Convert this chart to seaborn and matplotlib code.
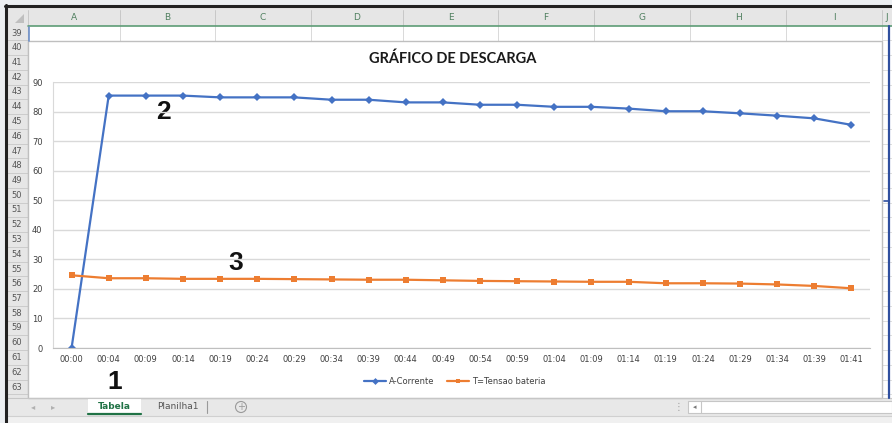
import matplotlib.pyplot as plt
import matplotlib.patches as mpatches
import numpy as np
import pandas as pd
import seaborn as sns

# Data
tempos = ['00:00', '00:04', '00:09', '00:14', '00:19', '00:24', '00:29',
          '00:34', '00:39', '00:44', '00:49', '00:54', '00:59', '01:04',
          '01:09', '01:14', '01:19', '01:24', '01:29', '01:34', '01:39',
          '01:41']
corrente = [0, 85.4, 85.4, 85.4, 84.8, 84.8, 84.8, 84.0, 84.0, 83.1, 83.1,
            82.3, 82.3, 81.6, 81.6, 81.0, 80.1, 80.1, 79.4, 78.6, 77.7, 75.5]
tensao = [24.6, 23.6, 23.6, 23.4, 23.4, 23.4, 23.3, 23.2, 23.1, 23.1, 22.9,
          22.7, 22.6, 22.5, 22.4, 22.4, 21.9, 21.9, 21.8, 21.5, 21.0, 20.2]
series_names = ['A-Corrente', 'T=Tensao bateria']
y_ticks = [0, 10, 20, 30, 40, 50, 60, 70, 80, 90]
col_letters = ['A', 'B', 'C', 'D', 'E', 'F', 'G', 'H', 'I', 'J']
row_numbers = list(range(39, 64))

sns.set_style('white')
plt.rcParams['font.family'] = ['DejaVu Sans']

W, H = 892, 423
BLUE = '#4472C4'
ORANGE = '#ED7D31'

df = pd.DataFrame({
    'pos': list(range(len(tempos))) * 2,
    'valor': corrente + tensao,
    'serie': [series_names[0]] * len(tempos) + [series_names[1]] * len(tempos),
})

fig = plt.figure(figsize=(W / 100, H / 100), dpi=100)
fig.patch.set_facecolor('#eceff2')

# --- spreadsheet backdrop (pixel coordinates) ---
bg = fig.add_axes([0, 0, 1, 1])
bg.set_xlim(0, W)
bg.set_ylim(H, 0)
bg.axis('off')


def rect(x0, y0, x1, y1, fc, ec='none', lw=0.8, z=1):
  bg.add_patch(mpatches.Rectangle((x0, y0), x1 - x0, y1 - y0, facecolor=fc,
                                  edgecolor=ec, linewidth=lw, zorder=z))


# sheet area
rect(6, 7, W, 416, 'white')
# column header band
rect(6, 8, W, 26, '#e6e6e6')
col_edges = [28, 120, 215, 311, 403, 498, 594, 690, 786, 882, 900]
for i, letter in enumerate(col_letters):
  cx = (col_edges[i] + min(col_edges[i + 1], W + 10)) / 2
  if letter == 'J':
    cx = 887
  bg.text(cx, 18, letter, ha='center', va='center', fontsize=6.5,
          color='#4f7f5f', zorder=3)
  bg.plot([col_edges[i], col_edges[i]], [10, 26], color='#c8c8c8', lw=0.7,
          zorder=2)
bg.plot([28, W], [26, 26], color='#5d9c76', lw=1.2, zorder=3)
# select-all corner triangle
bg.add_patch(mpatches.Polygon([[24, 14], [24, 23], [15, 23]], closed=True,
                              facecolor='#bfbfbf', edgecolor='none', zorder=3))
# row numbers
rect(6, 26, 28, 398, '#e6e6e6')
row_h = 14.75
for k, n in enumerate(row_numbers):
  cy = 33 + k * row_h
  bg.text(17, cy, str(n), ha='center', va='center', fontsize=6,
          color='#555555', zorder=3)
  bg.plot([6, 28], [cy + row_h / 2, cy + row_h / 2], color='#c8c8c8',
          lw=0.6, zorder=2)
bg.plot([28, 28], [26, 398], color='#c0c0c0', lw=0.8, zorder=2)
# row 39 cell grid and column J cells
for x in col_edges[1:-1]:
  bg.plot([x, x], [26, 41], color='#d9d9d9', lw=0.7, zorder=2)
bg.plot([28, 882], [41, 41], color='#d9d9d9', lw=0.7, zorder=2)
bg.plot([29, 29], [27, 41], color='#6d8fc9', lw=1.2, zorder=3)
for k in range(len(row_numbers)):
  cy = 33 + k * row_h + row_h / 2
  bg.plot([882, W], [cy, cy], color='#d9d9d9', lw=0.6, zorder=2)
bg.plot([889, 889], [26, 398], color='#2f4f9f', lw=1.6, zorder=4)
bg.plot([884, 889], [201, 201], color='#2f4f9f', lw=1.2, zorder=4)
# chart area
rect(28, 41, 882, 398, 'white', ec='#bfbfbf', lw=1.0, z=2)
# bottom tab bar
rect(6, 398, W, 416, '#e8e8e8')
bg.plot([6, W], [398, 398], color='#c6c6c6', lw=0.8, zorder=3)
rect(6, 416, W, H, '#f0f0f0')
bg.plot([6, W], [416, 416], color='#d0d0d0', lw=0.8, zorder=3)
bg.text(33, 407, '◂', ha='center', va='center', fontsize=6, color='#b0b0b0')
bg.text(53, 407, '▸', ha='center', va='center', fontsize=6, color='#b0b0b0')
rect(88, 398, 141, 415, 'white', z=2)
bg.plot([88, 141], [414.5, 414.5], color='#217346', lw=1.6, zorder=3)
bg.text(114.5, 406.5, 'Tabela', ha='center', va='center', fontsize=6.5,
        color='#217346', fontweight='bold', zorder=4)
bg.text(178, 406.5, 'Planilha1', ha='center', va='center', fontsize=6.5,
        color='#555555', zorder=4)
bg.plot([207, 207], [401, 413], color='#9a9a9a', lw=0.8, zorder=3)
bg.add_patch(mpatches.Circle((241, 407), 5.5, facecolor='none',
                             edgecolor='#9a9a9a', lw=0.8, zorder=3))
bg.text(241, 407, '+', ha='center', va='center', fontsize=7, color='#9a9a9a',
        zorder=4)
bg.text(678, 407, '⋮', ha='center', va='center', fontsize=7, color='#a0a0a0')
rect(688, 401, W, 413, 'white', ec='#c6c6c6', lw=0.8, z=3)
bg.plot([701, 701], [401, 413], color='#c6c6c6', lw=0.8, zorder=4)
bg.text(694.5, 407, '◂', ha='center', va='center', fontsize=5,
        color='#777777', zorder=4)
# outer dark border
bg.plot([5, W], [6, 6], color='#222222', lw=2.2, zorder=6)
bg.plot([6, 6], [5, H], color='#222222', lw=2.2, zorder=6)

# chart title and annotations
bg.text(453, 59, 'GRÁFICO DE DESCARGA', ha='center', va='center',
        fontsize=10.5, fontweight='bold', family=['Lato', 'DejaVu Sans'],
        color='#1a1a1a', zorder=5)
bg.text(163, 112, '2', ha='center', va='center', fontsize=19,
        fontweight='bold', family=['Liberation Sans', 'DejaVu Sans'],
        color='#111111', zorder=5)
bg.text(236, 263, '3', ha='center', va='center', fontsize=19,
        fontweight='bold', family=['Liberation Sans', 'DejaVu Sans'],
        color='#111111', zorder=5)
bg.text(115, 382, '1', ha='center', va='center', fontsize=19,
        fontweight='bold', family=['Liberation Sans', 'DejaVu Sans'],
        color='#111111', zorder=5)

# --- the chart itself ---
x0, x1, y0, y1 = 53, 870, 82, 348
ax = fig.add_axes([x0 / W, 1 - y1 / H, (x1 - x0) / W, (y1 - y0) / H])
ax.set_facecolor('none')
sns.lineplot(data=df, x='pos', y='valor', hue='serie', style='serie',
             palette=[BLUE, ORANGE], markers=['D', 's'], dashes=False,
             markersize=4, markeredgewidth=0, linewidth=1.6, ax=ax,
             legend=False)
ax.set_xlim(-0.5, len(tempos) - 0.5)
ax.set_ylim(0, 90)
ax.set_yticks(y_ticks)
ax.set_yticklabels([str(v) for v in y_ticks])
ax.set_xticks(range(len(tempos)))
ax.set_xticklabels(tempos)
ax.set_xticks(np.arange(-0.5, len(tempos), 1.0), minor=True)
ax.tick_params(axis='x', which='major', length=0, pad=5, labelsize=6,
               labelcolor='#404040')
ax.tick_params(axis='x', which='minor', length=4, width=0.8, color='#bfbfbf',
               direction='out')
ax.tick_params(axis='y', length=3, width=0.8, color='#bfbfbf', pad=4.5,
               labelsize=6, labelcolor='#404040')
ax.yaxis.grid(True, color='#d9d9d9', linewidth=1.0)
ax.set_axisbelow(True)
for side in ['top', 'right']:
  ax.spines[side].set_visible(False)
ax.spines['left'].set_color('#d9d9d9')
ax.spines['bottom'].set_color('#bfbfbf')
ax.set_xlabel('')
ax.set_ylabel('')

handles = [
    plt.Line2D([], [], color=BLUE, marker='D', markersize=3.5, lw=1.6,
               markeredgewidth=0),
    plt.Line2D([], [], color=ORANGE, marker='s', markersize=3.5, lw=1.6,
               markeredgewidth=0),
]
fig.legend(handles, series_names, loc='center', ncol=2,
           bbox_to_anchor=(455 / W, 1 - 381 / H), frameon=False, fontsize=6,
           handlelength=2.6, columnspacing=1.5, handletextpad=0.4,
           labelcolor='#404040')

fig.savefig('out.png', dpi=100)
